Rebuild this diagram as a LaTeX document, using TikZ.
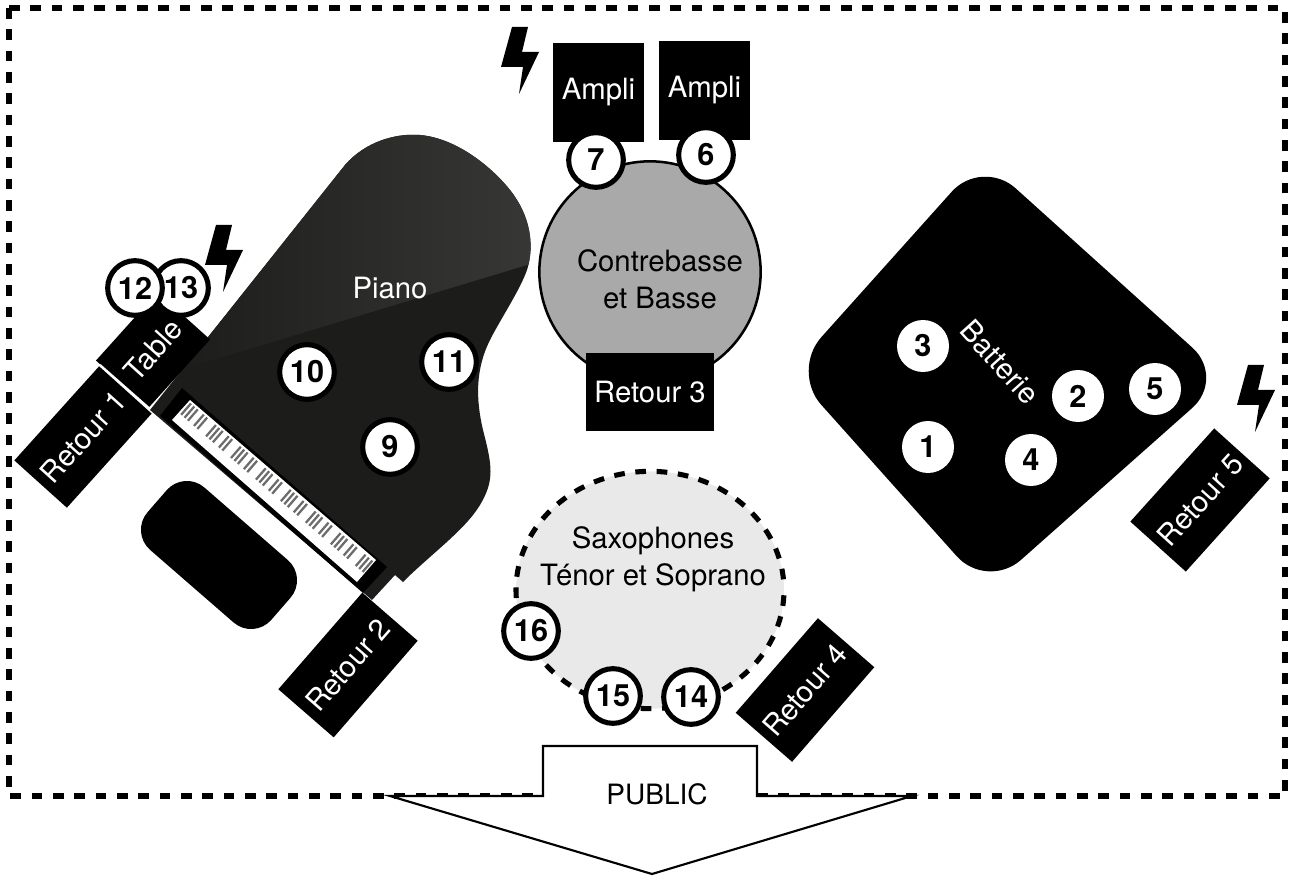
\documentclass[tikz,border=0pt]{standalone}
\usepackage{fontspec}
\setmainfont{TeX Gyre Heros}
\usetikzlibrary{calc,shapes.geometric}
\definecolor{pianodark}{HTML}{1C1C1A}
\definecolor{pianolight}{HTML}{393937}
\definecolor{bassegray}{HTML}{A9A9A9}
\definecolor{saxgray}{HTML}{E9E9E9}
\newcommand{\pianopath}{(150,410) -- (345,165) .. controls (365,142) and (395,133) .. (420,135)
 .. controls (455,138) and (490,165) .. (510,190) .. controls (530,215) and (535,245) .. (527,270)
 .. controls (520,290) and (500,320) .. (490,340) .. controls (475,370) and (476,400) .. (483,430)
 .. controls (492,465) and (495,480) .. (480,505) .. controls (465,530) and (430,555) .. (403,582)
 -- (395,575) -- (372,600) -- cycle}
\tikzset{
 lbl/.style={font=\fontsize{22}{26}\selectfont,align=center,inner sep=0pt},
 wlbl/.style={lbl,text=white},
 blackbox/.style={fill=black,wlbl,minimum height=#1},
 num/.style={circle,draw=black,fill=white,line width=3.8pt,minimum size=41pt,inner sep=0pt,font=\fontsize{23}{24}\selectfont\bfseries},
 numb/.style={circle,fill=white,minimum size=39pt,inner sep=0pt,font=\fontsize{23}{24}\selectfont\bfseries},
 dashline/.style={line width=3.8pt,dash pattern=on 8pt off 8pt},
}
\begin{document}
\begin{tikzpicture}[x=0.75pt,y=-0.75pt]
\useasboundingbox (0,0) rectangle (1293,877);
% frame
\draw[dashline] (9,8) rectangle (1285,796);
% piano
\fill[pianodark] \pianopath;
\begin{scope}
 \clip \pianopath;
 \shade[left color=pianodark,right color=pianolight] (527,265) -- (170,373) -- (170,300) -- (300,120) -- (560,120) -- (560,255) -- cycle;
\end{scope}
% keyboard
\fill[black] (182,388) -- (160,416) -- (363,593) -- (387,567) -- cycle;
\fill[white] (190,400) -- (172,420) -- (357,582) -- (376,560) -- cycle;
\begin{scope}[shift={(190,400)},rotate=-40.9]
 \foreach \d in {3,7.5,12,20,24.5,36,40.5,45,53,57.5,69,73.5,78,86,90.5,102,106.5,111,119,123.5,135,139.5,144,152,156.5,168,172.5,177,185,189.5,201,205.5,210,218,222.5,234,238.5,243}
  \draw[gray!85!black,line width=1.7pt] (\d,2) -- (\d,17);
\end{scope}
% bench
\node[fill=black,rounded corners=20pt,minimum width=123pt,minimum height=62pt,rotate=-41] (bench) at (219,555) {};
% battery
\fill[black,rounded corners=34pt] (982,158) -- (1226,378) -- (987,590) -- (791,371) -- cycle;
\node[lbl,text=white,rotate=-48] (batterie) at (1000,362) {Batterie};
% basse
\node[circle,draw=black,fill=bassegray,line width=1.9pt,minimum size=166pt,inner sep=0pt] (basse) at (650,272) {};
\node[lbl] (bassetext) at (660,279) {Contrebasse\\[2pt]et Basse};
% sax
\node[ellipse,draw=black,fill=saxgray,dashline,dash phase=8pt,minimum width=201pt,minimum height=178pt,inner sep=0pt] (sax) at (650,590) {};
\node[lbl] (saxtext) at (653,559) {Saxophones\\[2pt]Ténor et Soprano};
% amps and monitors
\node[blackbox=74pt,minimum width=68pt] (amp7) at (598.5,92.5) {Ampli};
\node[blackbox=74pt,minimum width=68pt] (amp6) at (704.5,90.5) {Ampli};
\node[blackbox=59pt,minimum width=96pt] (ret3) at (650,392) {Retour 3};
\node[blackbox=53pt,minimum width=95pt,rotate=48] (ret1) at (83,437) {Retour 1};
\node[blackbox=53pt,minimum width=69pt,rotate=48] (table) at (153,350) {Table};
\draw[white,line width=1.6pt] (100,365) -- (150,409);
\node[blackbox=55pt,minimum width=96pt,rotate=49] (ret2) at (348,665) {Retour 2};
\node[blackbox=56pt,minimum width=94pt,rotate=49] (ret4) at (805,690) {Retour 4};
\node[blackbox=56pt,minimum width=94pt,rotate=48] (ret5) at (1200,500) {Retour 5};
% bolts
\foreach \sx/\sy in {501/27,205/225,1237/365}
 \fill[black,shift={(\sx,\sy)}] (11,0) -- (27,0) -- (21,25) -- (38,25) -- (18,67) -- (22,40) -- (0,40) -- cycle;
% piano label
\node[wlbl] (piano) at (390,288) {Piano};
% numbers
\node[num] (n7) at (596,160) {7};
\node[num] (n6) at (706,155) {6};
\node[num] (n13) at (181,288) {13};
\node[num] (n12) at (135,288) {12};
\node[num] (n10) at (307,372) {10};
\node[num] (n11) at (449,362) {11};
\node[num] (n9) at (390,447) {9};
\node[num] (n16) at (531,631) {16};
\node[num] (n15) at (613,696) {15};
\node[num] (n14) at (691,697) {14};
\node[numb] (n3) at (923,346) {3};
\node[numb] (n1) at (928,447) {1};
\node[numb] (n2) at (1078,396) {2};
\node[numb] (n5) at (1155,389) {5};
\node[numb] (n4) at (1031,460) {4};
% public
\draw[fill=white,line width=1.6pt] (543,746) -- (757,746) -- (757,796) -- (912,796) -- (652,874) -- (390,796) -- (543,796) -- cycle;
\node[lbl,font=\fontsize{21}{24}\selectfont] (public) at (657,794) {PUBLIC};
\end{tikzpicture}
\end{document}
